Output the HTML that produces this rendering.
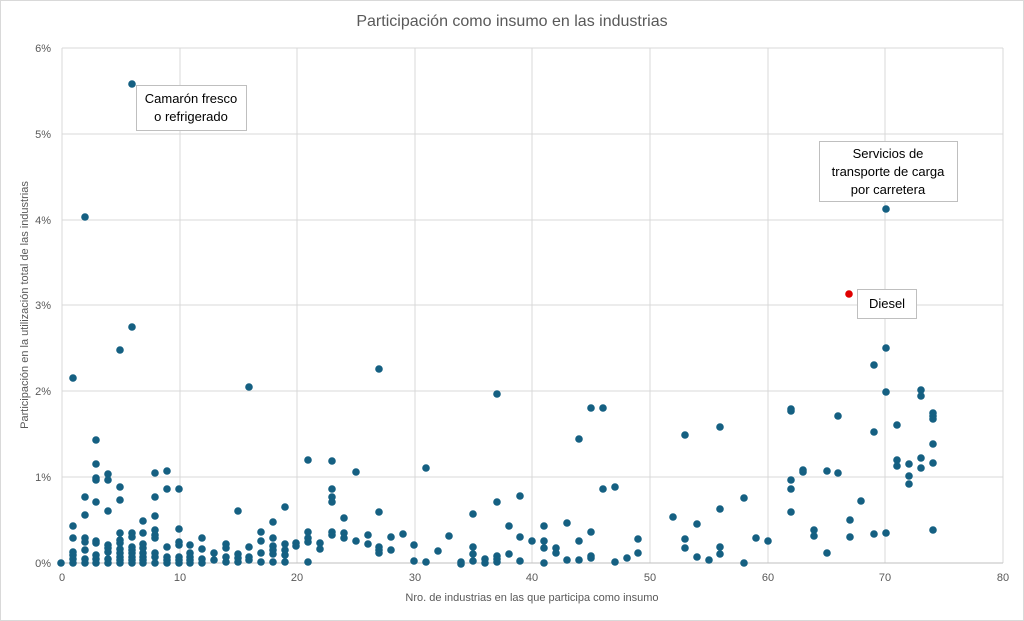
<!DOCTYPE html>
<html><head><meta charset="utf-8"><style>
body{margin:0;background:#fff}
svg{display:block;font-family:"Liberation Sans",sans-serif}
</style></head><body>
<svg width="1024" height="621" xmlns="http://www.w3.org/2000/svg">
<rect x="0.5" y="0.5" width="1023" height="620" fill="#fff" stroke="#d9d9d9"/>
<text x="512" y="26" text-anchor="middle" font-size="16" fill="#595959">Participación como insumo en las industrias</text>
<g stroke="#d9d9d9" stroke-width="1">
<line x1="62" y1="48" x2="1003" y2="48"/><line x1="62" y1="134" x2="1003" y2="134"/><line x1="62" y1="220" x2="1003" y2="220"/><line x1="62" y1="305" x2="1003" y2="305"/><line x1="62" y1="391" x2="1003" y2="391"/><line x1="62" y1="477" x2="1003" y2="477"/>
<line x1="62" y1="48" x2="62" y2="563"/><line x1="180" y1="48" x2="180" y2="563"/><line x1="297" y1="48" x2="297" y2="563"/><line x1="415" y1="48" x2="415" y2="563"/><line x1="532" y1="48" x2="532" y2="563"/><line x1="650" y1="48" x2="650" y2="563"/><line x1="768" y1="48" x2="768" y2="563"/><line x1="885" y1="48" x2="885" y2="563"/><line x1="1003" y1="48" x2="1003" y2="563"/>
</g>
<line x1="62" y1="563" x2="1003" y2="563" stroke="#bfbfbf"/>
<g font-size="11" fill="#595959" text-anchor="end">
<text x="51" y="52">6%</text><text x="51" y="138">5%</text><text x="51" y="224">4%</text><text x="51" y="309">3%</text><text x="51" y="395">2%</text><text x="51" y="481">1%</text><text x="51" y="567">0%</text>
</g>
<g font-size="11" fill="#595959" text-anchor="middle">
<text x="62" y="581">0</text><text x="180" y="581">10</text><text x="297" y="581">20</text><text x="415" y="581">30</text><text x="532" y="581">40</text><text x="650" y="581">50</text><text x="768" y="581">60</text><text x="885" y="581">70</text><text x="1003" y="581">80</text>
</g>
<text x="532" y="601" text-anchor="middle" font-size="11" fill="#595959">Nro. de industrias en las que participa como insumo</text>
<text transform="translate(28,305) rotate(-90)" text-anchor="middle" font-size="11" fill="#595959">Participación en la utilización total de las industrias</text>
<g fill="#156082">
<circle cx="61" cy="563" r="3.8"/>
<circle cx="73" cy="526" r="3.8"/><circle cx="73" cy="538" r="3.8"/><circle cx="73" cy="552" r="3.8"/><circle cx="73" cy="555" r="3.8"/><circle cx="73" cy="559" r="3.8"/><circle cx="73" cy="563" r="3.8"/><circle cx="73" cy="378" r="3.8"/>
<circle cx="85" cy="497" r="3.8"/><circle cx="85" cy="515" r="3.8"/><circle cx="85" cy="538" r="3.8"/><circle cx="85" cy="542" r="3.8"/><circle cx="85" cy="550" r="3.8"/><circle cx="85" cy="559" r="3.8"/><circle cx="85" cy="563" r="3.8"/><circle cx="85" cy="217" r="3.8"/>
<circle cx="96" cy="440" r="3.8"/><circle cx="96" cy="464" r="3.8"/><circle cx="96" cy="478" r="3.8"/><circle cx="96" cy="480" r="3.8"/><circle cx="96" cy="502" r="3.8"/><circle cx="96" cy="541" r="3.8"/><circle cx="96" cy="543" r="3.8"/><circle cx="96" cy="555" r="3.8"/><circle cx="96" cy="559" r="3.8"/><circle cx="96" cy="563" r="3.8"/>
<circle cx="108" cy="474" r="3.8"/><circle cx="108" cy="480" r="3.8"/><circle cx="108" cy="511" r="3.8"/><circle cx="108" cy="545" r="3.8"/><circle cx="108" cy="548" r="3.8"/><circle cx="108" cy="552" r="3.8"/><circle cx="108" cy="559" r="3.8"/><circle cx="108" cy="563" r="3.8"/>
<circle cx="120" cy="487" r="3.8"/><circle cx="120" cy="500" r="3.8"/><circle cx="120" cy="533" r="3.8"/><circle cx="120" cy="540" r="3.8"/><circle cx="120" cy="543" r="3.8"/><circle cx="120" cy="549" r="3.8"/><circle cx="120" cy="553" r="3.8"/><circle cx="120" cy="557" r="3.8"/><circle cx="120" cy="560" r="3.8"/><circle cx="120" cy="563" r="3.8"/><circle cx="120" cy="350" r="3.8"/>
<circle cx="132" cy="533" r="3.8"/><circle cx="132" cy="537" r="3.8"/><circle cx="132" cy="547" r="3.8"/><circle cx="132" cy="550" r="3.8"/><circle cx="132" cy="553" r="3.8"/><circle cx="132" cy="557" r="3.8"/><circle cx="132" cy="560" r="3.8"/><circle cx="132" cy="563" r="3.8"/><circle cx="132" cy="84" r="3.8"/><circle cx="132" cy="327" r="3.8"/>
<circle cx="143" cy="521" r="3.8"/><circle cx="143" cy="533" r="3.8"/><circle cx="143" cy="544" r="3.8"/><circle cx="143" cy="548" r="3.8"/><circle cx="143" cy="553" r="3.8"/><circle cx="143" cy="557" r="3.8"/><circle cx="143" cy="560" r="3.8"/><circle cx="143" cy="563" r="3.8"/>
<circle cx="155" cy="473" r="3.8"/><circle cx="155" cy="497" r="3.8"/><circle cx="155" cy="516" r="3.8"/><circle cx="155" cy="530" r="3.8"/><circle cx="155" cy="535" r="3.8"/><circle cx="155" cy="538" r="3.8"/><circle cx="155" cy="553" r="3.8"/><circle cx="155" cy="557" r="3.8"/><circle cx="155" cy="563" r="3.8"/>
<circle cx="167" cy="471" r="3.8"/><circle cx="167" cy="489" r="3.8"/><circle cx="167" cy="547" r="3.8"/><circle cx="167" cy="557" r="3.8"/><circle cx="167" cy="560" r="3.8"/><circle cx="167" cy="563" r="3.8"/>
<circle cx="179" cy="489" r="3.8"/><circle cx="179" cy="529" r="3.8"/><circle cx="179" cy="542" r="3.8"/><circle cx="179" cy="545" r="3.8"/><circle cx="179" cy="557" r="3.8"/><circle cx="179" cy="560" r="3.8"/><circle cx="179" cy="563" r="3.8"/>
<circle cx="190" cy="545" r="3.8"/><circle cx="190" cy="553" r="3.8"/><circle cx="190" cy="557" r="3.8"/><circle cx="190" cy="560" r="3.8"/><circle cx="190" cy="563" r="3.8"/>
<circle cx="202" cy="538" r="3.8"/><circle cx="202" cy="549" r="3.8"/><circle cx="202" cy="559" r="3.8"/><circle cx="202" cy="563" r="3.8"/>
<circle cx="214" cy="553" r="3.8"/><circle cx="214" cy="560" r="3.8"/>
<circle cx="226" cy="544" r="3.8"/><circle cx="226" cy="548" r="3.8"/><circle cx="226" cy="557" r="3.8"/><circle cx="226" cy="562" r="3.8"/>
<circle cx="238" cy="511" r="3.8"/><circle cx="238" cy="554" r="3.8"/><circle cx="238" cy="558" r="3.8"/><circle cx="238" cy="562" r="3.8"/>
<circle cx="249" cy="547" r="3.8"/><circle cx="249" cy="557" r="3.8"/><circle cx="249" cy="560" r="3.8"/><circle cx="249" cy="387" r="3.8"/>
<circle cx="261" cy="532" r="3.8"/><circle cx="261" cy="541" r="3.8"/><circle cx="261" cy="553" r="3.8"/><circle cx="261" cy="562" r="3.8"/>
<circle cx="273" cy="522" r="3.8"/><circle cx="273" cy="538" r="3.8"/><circle cx="273" cy="546" r="3.8"/><circle cx="273" cy="550" r="3.8"/><circle cx="273" cy="554" r="3.8"/><circle cx="273" cy="562" r="3.8"/>
<circle cx="285" cy="507" r="3.8"/><circle cx="285" cy="544" r="3.8"/><circle cx="285" cy="550" r="3.8"/><circle cx="285" cy="555" r="3.8"/><circle cx="285" cy="562" r="3.8"/>
<circle cx="296" cy="543" r="3.8"/><circle cx="296" cy="546" r="3.8"/>
<circle cx="308" cy="460" r="3.8"/><circle cx="308" cy="532" r="3.8"/><circle cx="308" cy="538" r="3.8"/><circle cx="308" cy="542" r="3.8"/><circle cx="308" cy="562" r="3.8"/>
<circle cx="320" cy="543" r="3.8"/><circle cx="320" cy="549" r="3.8"/>
<circle cx="332" cy="461" r="3.8"/><circle cx="332" cy="489" r="3.8"/><circle cx="332" cy="497" r="3.8"/><circle cx="332" cy="502" r="3.8"/><circle cx="332" cy="532" r="3.8"/><circle cx="332" cy="535" r="3.8"/>
<circle cx="356" cy="472" r="3.8"/><circle cx="426" cy="468" r="3.8"/><circle cx="344" cy="518" r="3.8"/><circle cx="379" cy="512" r="3.8"/><circle cx="344" cy="533" r="3.8"/><circle cx="344" cy="538" r="3.8"/><circle cx="356" cy="541" r="3.8"/><circle cx="368" cy="535" r="3.8"/><circle cx="368" cy="544" r="3.8"/><circle cx="379" cy="547" r="3.8"/><circle cx="379" cy="550" r="3.8"/><circle cx="379" cy="553" r="3.8"/><circle cx="379" cy="369" r="3.8"/><circle cx="391" cy="537" r="3.8"/><circle cx="391" cy="550" r="3.8"/><circle cx="403" cy="534" r="3.8"/><circle cx="414" cy="545" r="3.8"/><circle cx="414" cy="561" r="3.8"/><circle cx="426" cy="562" r="3.8"/><circle cx="438" cy="551" r="3.8"/><circle cx="449" cy="536" r="3.8"/><circle cx="461" cy="562" r="3.8"/><circle cx="461" cy="564" r="3.8"/><circle cx="473" cy="514" r="3.8"/><circle cx="473" cy="547" r="3.8"/><circle cx="473" cy="554" r="3.8"/><circle cx="473" cy="561" r="3.8"/><circle cx="485" cy="559" r="3.8"/><circle cx="485" cy="563" r="3.8"/><circle cx="497" cy="502" r="3.8"/><circle cx="497" cy="556" r="3.8"/><circle cx="497" cy="559" r="3.8"/><circle cx="497" cy="562" r="3.8"/><circle cx="497" cy="394" r="3.8"/><circle cx="509" cy="526" r="3.8"/><circle cx="509" cy="554" r="3.8"/><circle cx="520" cy="496" r="3.8"/><circle cx="520" cy="537" r="3.8"/><circle cx="520" cy="561" r="3.8"/><circle cx="532" cy="541" r="3.8"/><circle cx="544" cy="526" r="3.8"/><circle cx="544" cy="541" r="3.8"/><circle cx="544" cy="548" r="3.8"/><circle cx="544" cy="563" r="3.8"/><circle cx="556" cy="548" r="3.8"/><circle cx="556" cy="553" r="3.8"/><circle cx="567" cy="523" r="3.8"/><circle cx="567" cy="560" r="3.8"/><circle cx="579" cy="439" r="3.8"/><circle cx="579" cy="541" r="3.8"/><circle cx="579" cy="560" r="3.8"/><circle cx="591" cy="408" r="3.8"/><circle cx="591" cy="532" r="3.8"/><circle cx="591" cy="556" r="3.8"/><circle cx="591" cy="558" r="3.8"/><circle cx="603" cy="408" r="3.8"/><circle cx="603" cy="489" r="3.8"/><circle cx="615" cy="487" r="3.8"/><circle cx="615" cy="562" r="3.8"/><circle cx="627" cy="558" r="3.8"/><circle cx="638" cy="539" r="3.8"/><circle cx="638" cy="553" r="3.8"/>
<circle cx="886" cy="348" r="3.8"/><circle cx="874" cy="365" r="3.8"/><circle cx="886" cy="392" r="3.8"/><circle cx="921" cy="390" r="3.8"/><circle cx="921" cy="396" r="3.8"/><circle cx="791" cy="409" r="3.8"/><circle cx="791" cy="411" r="3.8"/><circle cx="838" cy="416" r="3.8"/><circle cx="933" cy="413" r="3.8"/><circle cx="933" cy="416" r="3.8"/><circle cx="933" cy="419" r="3.8"/><circle cx="685" cy="435" r="3.8"/><circle cx="720" cy="427" r="3.8"/><circle cx="874" cy="432" r="3.8"/><circle cx="897" cy="425" r="3.8"/><circle cx="933" cy="444" r="3.8"/><circle cx="897" cy="460" r="3.8"/><circle cx="897" cy="466" r="3.8"/><circle cx="909" cy="464" r="3.8"/><circle cx="921" cy="458" r="3.8"/><circle cx="921" cy="468" r="3.8"/><circle cx="933" cy="463" r="3.8"/><circle cx="909" cy="476" r="3.8"/><circle cx="909" cy="484" r="3.8"/><circle cx="791" cy="480" r="3.8"/><circle cx="791" cy="489" r="3.8"/><circle cx="803" cy="470" r="3.8"/><circle cx="803" cy="472" r="3.8"/><circle cx="827" cy="471" r="3.8"/><circle cx="838" cy="473" r="3.8"/><circle cx="744" cy="498" r="3.8"/><circle cx="861" cy="501" r="3.8"/><circle cx="673" cy="517" r="3.8"/><circle cx="720" cy="509" r="3.8"/><circle cx="697" cy="524" r="3.8"/><circle cx="791" cy="512" r="3.8"/><circle cx="850" cy="520" r="3.8"/><circle cx="814" cy="530" r="3.8"/><circle cx="814" cy="536" r="3.8"/><circle cx="850" cy="537" r="3.8"/><circle cx="874" cy="534" r="3.8"/><circle cx="886" cy="533" r="3.8"/><circle cx="933" cy="530" r="3.8"/><circle cx="685" cy="539" r="3.8"/><circle cx="685" cy="548" r="3.8"/><circle cx="756" cy="538" r="3.8"/><circle cx="768" cy="541" r="3.8"/><circle cx="697" cy="557" r="3.8"/><circle cx="709" cy="560" r="3.8"/><circle cx="720" cy="547" r="3.8"/><circle cx="720" cy="554" r="3.8"/><circle cx="744" cy="563" r="3.8"/><circle cx="827" cy="553" r="3.8"/><circle cx="886" cy="209" r="3.8"/>
</g>
<circle cx="849" cy="294" r="3.8" fill="#e00000"/>
<g font-size="13" fill="#000" text-anchor="middle">
<rect x="136.5" y="85.5" width="110" height="45" fill="#fff" stroke="#bfbfbf"/>
<text x="191" y="103">Camarón fresco</text><text x="191" y="121">o refrigerado</text>
<rect x="819.5" y="141.5" width="138" height="60" fill="#fff" stroke="#bfbfbf"/>
<text x="888" y="158">Servicios de</text><text x="888" y="176">transporte de carga</text><text x="888" y="194">por carretera</text>
<rect x="857.5" y="289.5" width="59" height="29" fill="#fff" stroke="#bfbfbf"/>
<text x="887" y="308">Diesel</text>
</g>
</svg>
</body></html>
